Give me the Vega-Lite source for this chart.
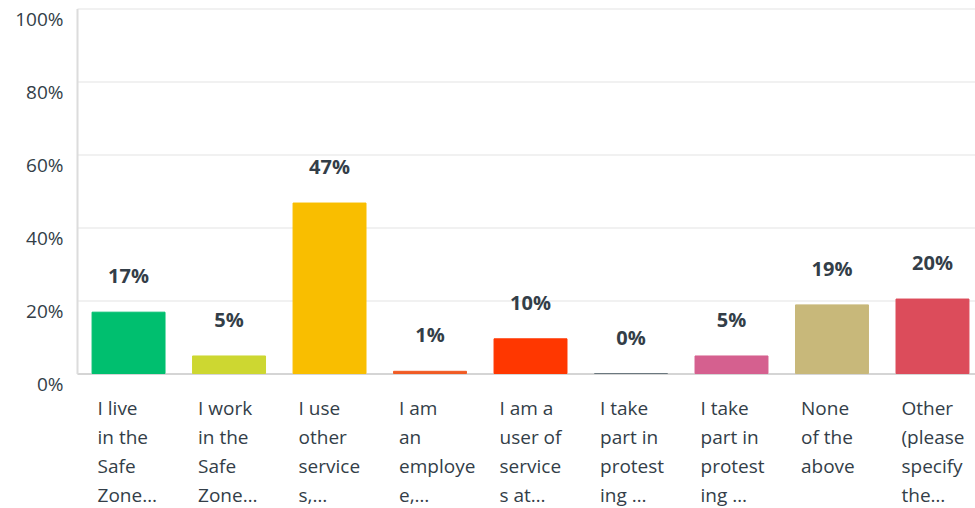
{
  "$schema": "https://vega.github.io/schema/vega-lite/v6.json",
  "width": 898,
  "height": 365,
  "autosize": {"type": "none"},
  "padding": {"left": 77, "top": 8.5, "right": 0, "bottom": 134.5},
  "background": "white",
  "config": {
    "view": {"stroke": null},
    "font": "Open Sans"
  },
  "data": {
    "values": [
      {"answer": "I live\nin the\nSafe\nZone…", "value": 16.8, "label": "17%", "color": "#00bf6f"},
      {"answer": "I work\nin the\nSafe\nZone…", "value": 4.8, "label": "5%", "color": "#cdd731"},
      {"answer": "I use\nother\nservice\ns,…", "value": 46.7, "label": "47%", "color": "#f9be00"},
      {"answer": "I am\nan\nemploye\ne,…", "value": 0.6, "label": "1%", "color": "#f05b24"},
      {"answer": "I am a\nuser of\nservice\ns at…", "value": 9.5, "label": "10%", "color": "#ff3700"},
      {"answer": "I take\npart in\nprotest\ning …", "value": 0, "label": "0%", "color": "#6b787f"},
      {"answer": "I take\npart in\nprotest\ning …", "value": 4.8, "label": "5%", "color": "#d5608f"},
      {"answer": "None\nof the\nabove", "value": 18.8, "label": "19%", "color": "#c8b87a"},
      {"answer": "Other\n(please\nspecify\nthe…", "value": 20.4, "label": "20%", "color": "#dc4c5b"}
    ]
  },
  "transform": [
    {"window": [{"op": "row_number", "as": "idx"}]}
  ],
  "encoding": {
    "x": {
      "field": "idx",
      "type": "ordinal",
      "scale": {"paddingInner": 0.274, "paddingOuter": 0.105, "align": 0.714},
      "axis": {
        "title": null,
        "labelAngle": 0,
        "ticks": false,
        "domainColor": "#d5d5d5",
        "domainWidth": 2,
        "labelAlign": "left",
        "labelBaseline": "top",
        "labelOffset": -31,
        "labelPadding": 26,
        "labelFontSize": 19,
        "labelLineHeight": 29,
        "labelColor": "#333e48",
        "labelExpr": "split(data('source_0')[datum.value - 1].answer, '\\n')"
      }
    }
  },
  "layer": [
    {
      "mark": {"type": "bar", "strokeWidth": 1},
      "encoding": {
        "y": {
          "field": "value",
          "type": "quantitative",
          "scale": {"domain": [0, 100]},
          "axis": {
            "title": null,
            "values": [0, 10, 20, 30, 40, 50, 60, 70, 80, 90, 100],
            "labelExpr": "datum.value % 20 == 0 ? datum.value + '%' : ''",
            "ticks": false,
            "gridColor": "#ececec",
            "gridWidth": 1.5,
            "domainColor": "#dcdcdc",
            "domainWidth": 2,
            "labelFontSize": 19,
            "labelColor": "#333e48",
            "labelPadding": 14,
            "labelOffset": 11
          }
        },
        "color": {"field": "color", "type": "nominal", "scale": null, "legend": null},
        "stroke": {"field": "color", "type": "nominal", "scale": null, "legend": null}
      }
    },
    {
      "mark": {"type": "text", "dy": -35, "baseline": "middle", "fontSize": 20, "fontWeight": "bold", "color": "#333e48"},
      "encoding": {
        "y": {"field": "value", "type": "quantitative"},
        "text": {"field": "label"}
      }
    }
  ]
}
